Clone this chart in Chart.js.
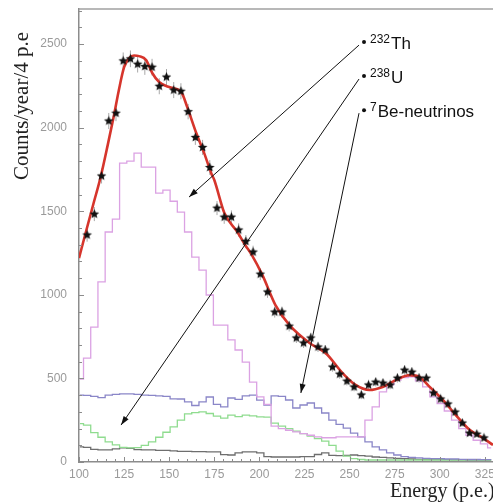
<!DOCTYPE html>
<html>
<head>
<meta charset="utf-8">
<script src="https://cdn.jsdelivr.net/npm/chart.js@4.4.1/dist/chart.umd.min.js"></script>
<style>
  body { margin: 0; background: #fff; }
  #spectrum { display: block; }
</style>
</head>
<body>
<canvas id="spectrum" width="493" height="504"></canvas>
<script>
// bin centres (4 p.e. bins), first one only partly inside the plot
const energies = [100.5, 104.5, 108.5, 112.5, 116.5, 120.5, 124.5, 128.5, 132.5, 136.5,
  140.5, 144.5, 148.5, 152.5, 156.5, 160.5, 164.5, 168.5, 172.5, 176.5,
  180.5, 184.5, 188.5, 192.5, 196.5, 200.5, 204.5, 208.5, 212.5, 216.5,
  220.5, 224.5, 228.5, 232.5, 236.5, 240.5, 244.5, 248.5, 252.5, 256.5,
  260.5, 264.5, 268.5, 272.5, 276.5, 280.5, 284.5, 288.5, 292.5, 296.5,
  300.5, 304.5, 308.5, 312.5, 316.5, 320.5, 324.5, 328.5];

// measured counts (stars), bins 104.5 ... 324.5
const measured = [1358, 1483, 1711, 2040, 2087, 2400, 2412, 2380, 2366, 2362,
  2248, 2303, 2225, 2218, 2096, 1942, 1882, 1762, 1519, 1465,
  1465, 1388, 1320, 1256, 1124, 1017, 897, 897, 813, 742,
  712, 742, 688, 670, 568, 526, 484, 449, 401, 461,
  478, 472, 461, 502, 550, 538, 502, 502, 413, 377,
  347, 299, 233, 173, 167, 144];
const measuredErr = [40, 42, 45, 48, 48, 50, 50, 50, 50, 50,
  48, 48, 48, 48, 46, 45, 45, 44, 42, 40,
  40, 40, 38, 38, 36, 35, 33, 33, 32, 30,
  30, 30, 30, 30, 28, 28, 26, 26, 25, 26,
  26, 26, 26, 27, 28, 28, 27, 27, 25, 24,
  23, 22, 20, 18, 18, 17];

// spectral components (histograms)
const pinkHist = [496, 622, 807, 1077, 1376, 1453, 1788, 1800, 1848, 1764,
  1764, 1609, 1627, 1560, 1495, 1376, 1226, 1148, 999, 819,
  819, 730, 670, 598, 478, 390, 345, 215, 200, 190,
  180, 170, 160, 150, 145, 145, 150, 150, 150, 150,
  250, 330, 420, 462, 490, 505, 510, 485, 450, 390,
  350, 305, 250, 200, 160, 130, 108, 84];
const blueHist = [400, 398, 392, 385, 400, 405, 407, 407, 404, 400,
  398, 395, 393, 378, 377, 360, 338, 360, 389, 345,
  330, 383, 375, 395, 400, 370, 341, 395, 392, 371,
  323, 341, 353, 323, 293, 251, 225, 203, 173, 150,
  120, 90, 72, 55, 42, 32, 28, 25, 22, 20,
  20, 18, 18, 16, 15, 15, 14, 14];
const greenHist = [230, 221, 176, 148, 120, 102, 88, 85, 86, 100,
  120, 148, 178, 210, 250, 288, 295, 300, 290, 275,
  263, 280, 272, 280, 276, 270, 268, 233, 215, 200,
  185, 170, 155, 140, 125, 100, 65, 35, 20, 15,
  12, 12, 12, 12, 12, 12, 12, 12, 12, 12,
  12, 12, 12, 12, 12, 12, 12, 12];
const grayHist = [90, 88, 75, 72, 72, 78, 84, 82, 74, 72,
  72, 70, 70, 66, 64, 64, 62, 62, 60, 60,
  44, 42, 54, 60, 60, 55, 32, 30, 30, 30,
  30, 32, 32, 45, 54, 40, 38, 40, 42, 38,
  35, 30, 28, 25, 22, 20, 18, 16, 15, 15,
  14, 14, 13, 13, 12, 12, 12, 12];

// total fit curve
const fitEnergy = [100, 104.4, 108, 112, 116, 119.4, 122, 125, 127.8, 130.5,
  133.3, 137.2, 140.6, 144.4, 150, 156.7, 160, 165, 169.4, 173.3,
  175, 180.6, 187.8, 192, 196, 201.7, 208.9, 216.7, 227.8, 236.7,
  246.1, 253.3, 261, 268.3, 275.6, 283.3, 288.9, 294.4, 301.7, 308.9,
  316.7, 323.9, 329.5];
const fitCounts = [1220, 1400, 1545, 1705, 1900, 2075, 2220, 2362, 2416, 2432,
  2428, 2404, 2327, 2273, 2243, 2213, 2123, 1968, 1848, 1728,
  1687, 1489, 1376, 1300, 1235, 1118, 939, 819, 712, 652,
  532, 461, 431, 449, 490, 520, 508, 449, 371, 281,
  191, 144, 102];

const yTicks = [0, 500, 1000, 1500, 2000, 2500];
const xTicks = [100, 125, 150, 175, 200, 225, 250, 275, 300, 325];

// labels with arrows, given in data units
const notes = [
  { sup: '232', name: 'Th', dot: [258, 2512], head: [161, 1585] },
  { sup: '238', name: 'U', dot: [258, 2309], head: [123.3, 221] },
  { sup: '7', name: 'Be-neutrinos', dot: [258, 2105], head: [223, 413] }
];

function toPoints(xs, ys, offset) {
  return ys.map((y, i) => ({ x: xs[i + (offset || 0)], y: y }));
}

function makeStar() {
  const c = document.createElement('canvas');
  c.width = 11;
  c.height = 11;
  const g = c.getContext('2d');
  g.fillStyle = '#111';
  g.beginPath();
  for (let i = 0; i < 10; i++) {
    const r = i % 2 === 0 ? 5 : 2.3;
    const a = -Math.PI / 2 + i * Math.PI / 5;
    const px = 5.5 + r * Math.cos(a);
    const py = 5.5 + r * Math.sin(a);
    if (i === 0) g.moveTo(px, py); else g.lineTo(px, py);
  }
  g.closePath();
  g.fill();
  return c;
}

const errorBars = {
  id: 'errorBars',
  beforeDatasetsDraw(chart) {
    const ctx = chart.ctx;
    const xs = chart.scales.x, ys = chart.scales.y;
    ctx.save();
    ctx.strokeStyle = '#a8a8a8';
    ctx.lineWidth = 1;
    measured.forEach((v, i) => {
      const px = xs.getPixelForValue(energies[i + 1]);
      ctx.beginPath();
      ctx.moveTo(px, ys.getPixelForValue(v + measuredErr[i]));
      ctx.lineTo(px, ys.getPixelForValue(v - measuredErr[i]));
      ctx.stroke();
    });
    ctx.restore();
  }
};

const decorations = {
  id: 'decorations',
  afterDraw(chart) {
    const ctx = chart.ctx;
    const area = chart.chartArea;
    const xs = chart.scales.x, ys = chart.scales.y;
    ctx.save();

    // top frame line
    ctx.strokeStyle = '#a0a0a0';
    ctx.lineWidth = 1.5;
    ctx.beginPath();
    ctx.moveTo(area.left, area.top);
    ctx.lineTo(area.right, area.top);
    ctx.stroke();

    // small inward ticks on both axes
    ctx.strokeStyle = '#8c8c8c';
    ctx.lineWidth = 1;
    ctx.beginPath();
    for (let v = 0; v <= ys.max; v += 100) {
      const py = Math.round(ys.getPixelForValue(v)) + 0.5;
      ctx.moveTo(area.left, py);
      ctx.lineTo(area.left + (v % 500 === 0 ? 5 : 3), py);
    }
    for (let v = xs.min; v <= xs.max; v += 5) {
      const px = Math.round(xs.getPixelForValue(v)) + 0.5;
      ctx.moveTo(px, area.bottom);
      ctx.lineTo(px, area.bottom - (v % 25 === 0 ? 5 : 3));
    }
    ctx.stroke();

    // axis titles
    ctx.fillStyle = '#222';
    ctx.font = '20px "Liberation Serif", serif';
    ctx.textAlign = 'left';
    ctx.textBaseline = 'alphabetic';
    ctx.fillText('Energy (p.e.)', 390, 497);
    ctx.save();
    ctx.translate(28, 106);
    ctx.rotate(-Math.PI / 2);
    ctx.textAlign = 'center';
    ctx.font = '21px "Liberation Serif", serif';
    ctx.fillText('Counts/year/4 p.e', 0, 0);
    ctx.restore();

    // arrows and labels
    notes.forEach(n => {
      const dx = xs.getPixelForValue(n.dot[0]);
      const dy = ys.getPixelForValue(n.dot[1]);
      const hx = xs.getPixelForValue(n.head[0]);
      const hy = ys.getPixelForValue(n.head[1]);
      const sx = dx - 5, sy = dy + 3;

      ctx.strokeStyle = '#111';
      ctx.fillStyle = '#111';
      ctx.lineWidth = 1;
      ctx.beginPath();
      ctx.moveTo(sx, sy);
      ctx.lineTo(hx, hy);
      ctx.stroke();

      const ang = Math.atan2(hy - sy, hx - sx);
      ctx.beginPath();
      ctx.moveTo(hx, hy);
      ctx.lineTo(hx - 9 * Math.cos(ang) + 3 * Math.sin(ang), hy - 9 * Math.sin(ang) - 3 * Math.cos(ang));
      ctx.lineTo(hx - 9 * Math.cos(ang) - 3 * Math.sin(ang), hy - 9 * Math.sin(ang) + 3 * Math.cos(ang));
      ctx.closePath();
      ctx.fill();

      ctx.beginPath();
      ctx.arc(dx, dy, 2, 0, Math.PI * 2);
      ctx.fill();

      ctx.textAlign = 'left';
      ctx.font = '12px "Liberation Sans", Arial, sans-serif';
      ctx.fillText(n.sup, dx + 6, dy + 1);
      const w = ctx.measureText(n.sup).width;
      ctx.font = '17px "Liberation Sans", Arial, sans-serif';
      ctx.fillText(n.name, dx + 6 + w + 1, dy + 6.5);
    });
    ctx.restore();
  }
};

function histDataset(values, color) {
  return {
    data: toPoints(energies, values),
    borderColor: color,
    borderWidth: 1.3,
    stepped: 'middle',
    pointRadius: 0,
    fill: false
  };
}

const ctx = document.getElementById('spectrum').getContext('2d');
const chart = new Chart(ctx, {
  type: 'line',
  data: {
    datasets: [
      {
        data: toPoints(energies, measured, 1),
        showLine: false,
        pointStyle: makeStar(),
        pointRadius: 5
      },
      {
        data: toPoints(fitEnergy, fitCounts),
        borderColor: '#d6352c',
        borderWidth: 2.6,
        cubicInterpolationMode: 'monotone',
        pointRadius: 0,
        fill: false
      },
      histDataset(pinkHist, '#dba2e3'),
      histDataset(blueHist, '#8a86c8'),
      histDataset(greenHist, '#8fdc8f'),
      histDataset(grayHist, '#6e6e6e')
    ]
  },
  options: {
    responsive: false,
    devicePixelRatio: 1,
    animation: false,
    layout: { autoPadding: false, padding: { top: 9, left: 0, right: 0, bottom: 0 } },
    plugins: { legend: { display: false }, tooltip: { enabled: false } },
    scales: {
      x: {
        type: 'linear',
        min: 100,
        max: 329.5,
        afterFit(scale) {
          scale.height = 42;
          scale.paddingLeft = 0;
          scale.paddingRight = 0;
        },
        afterBuildTicks(scale) { scale.ticks = xTicks.map(v => ({ value: v })); },
        border: { display: true, color: '#8c8c8c', width: 1.5 },
        grid: { display: false, drawTicks: false },
        ticks: {
          autoSkip: false,
          maxRotation: 0,
          padding: 5,
          color: '#9a9a9a',
          font: { size: 12, family: '"Liberation Sans", Arial, sans-serif' },
          callback: v => String(v)
        }
      },
      y: {
        min: 0,
        max: 2710,
        afterFit(scale) {
          scale.width = 79;
          scale.paddingTop = 0;
          scale.paddingBottom = 0;
        },
        afterBuildTicks(scale) { scale.ticks = yTicks.map(v => ({ value: v })); },
        border: { display: true, color: '#8c8c8c', width: 1.5 },
        grid: { display: false, drawTicks: false },
        ticks: {
          autoSkip: false,
          padding: 12,
          color: '#9a9a9a',
          font: { size: 12, family: '"Liberation Sans", Arial, sans-serif' },
          callback: v => String(v)
        }
      }
    }
  },
  plugins: [errorBars, decorations]
});
</script>
</body>
</html>
